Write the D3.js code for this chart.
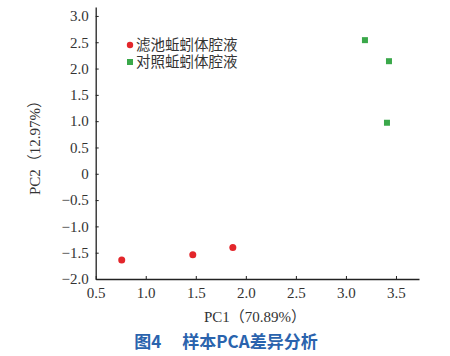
<!DOCTYPE html>
<html>
<head>
<meta charset="utf-8">
<script src="https://cdn.jsdelivr.net/npm/d3@7"></script>
<style>
  body { margin: 0; background: #fff; }
  .tick text { font-family: "Liberation Serif", serif; font-size: 15px; fill: #333; }
</style>
</head>
<body>
<div id="chart"></div>
<script>
// sample groups and PC scores
var groups = ["滤池蚯蚓体腔液", "对照蚯蚓体腔液"];
var groupColors = ["#e3262b", "#3aa84a"];
var filterPC1 = [0.76, 1.47, 1.87];
var filterPC2 = [-1.64, -1.54, -1.40];
var controlPC1 = [3.19, 3.43, 3.41];
var controlPC2 = [2.54, 2.14, 0.97];
var xTicks = [0.5, 1.0, 1.5, 2.0, 2.5, 3.0, 3.5];
var yTicks = [-2.0, -1.5, -1.0, -0.5, 0, 0.5, 1.0, 1.5, 2.0, 2.5, 3.0];

var width = 450, height = 356;
var svg = d3.select("#chart").append("svg")
    .attr("width", width)
    .attr("height", height);

var x = d3.scaleLinear().domain([0.5, 3.73]).range([95.7, 419]);
var y = d3.scaleLinear().domain([-2, 3.17]).range([279, 7]);

function fmt(d) { return d === 0 ? "0" : d3.format(".1f")(d).replace("-", "\u2212"); }

// x axis, ticks point inward
var gx = svg.append("g")
    .attr("transform", "translate(0," + y(-2) + ")")
    .call(d3.axisBottom(x).tickValues(xTicks).tickSize(-3).tickPadding(8).tickFormat(fmt).tickSizeOuter(0));
gx.select(".domain").attr("stroke", "#222").attr("stroke-width", 1.3);
gx.selectAll(".tick line").attr("stroke", "#222");

var gy = svg.append("g")
    .attr("transform", "translate(" + x(0.5) + ",0)")
    .call(d3.axisLeft(y).tickValues(yTicks).tickSize(-3).tickPadding(7).tickFormat(fmt).tickSizeOuter(0));
gy.select(".domain").attr("stroke", "#222").attr("stroke-width", 1.3);
gy.selectAll(".tick line").attr("stroke", "#222");

// points
var filterData = filterPC1.map(function(d, i) { return {x: d, y: filterPC2[i]}; });
var controlData = controlPC1.map(function(d, i) { return {x: d, y: controlPC2[i]}; });

svg.selectAll(".pt-filter").data(filterData)
  .enter().append("circle")
    .attr("class", "pt-filter")
    .attr("cx", function(d) { return x(d.x); })
    .attr("cy", function(d) { return y(d.y); })
    .attr("r", 3.5)
    .attr("fill", groupColors[0]);

svg.selectAll(".pt-control").data(controlData)
  .enter().append("rect")
    .attr("class", "pt-control")
    .attr("x", function(d) { return x(d.x) - 3; })
    .attr("y", function(d) { return y(d.y) - 3; })
    .attr("width", 6)
    .attr("height", 6)
    .attr("fill", groupColors[1]);

// legend
var legend = svg.append("g").attr("transform", "translate(130,45)");
groups.forEach(function(g, i) {
  var row = legend.append("g").attr("transform", "translate(0," + (i * 17) + ")");
  if (i === 0) {
    row.append("circle").attr("r", 3.2).attr("fill", groupColors[i]);
  } else {
    row.append("rect").attr("x", -3).attr("y", -3).attr("width", 6).attr("height", 6).attr("fill", groupColors[i]);
  }
  row.append("text")
    .attr("x", 6).attr("y", 5)
    .style("font-family", "'Noto Sans CJK SC', sans-serif")
    .style("font-size", "14.5px")
    .attr("fill", "#333")
    .text(g);
});

// axis titles (full-width brackets as in the figure)
svg.append("text")
  .attr("x", 255).attr("y", 322)
  .attr("text-anchor", "middle")
  .style("font-family", "'Liberation Serif', 'Noto Sans CJK SC', serif")
  .style("font-size", "15px")
  .attr("fill", "#333")
  .text("PC1（70.89%）");

svg.append("text")
  .attr("transform", "translate(40,144) rotate(-90)")
  .attr("text-anchor", "middle")
  .style("font-family", "'Liberation Serif', 'Noto Sans CJK SC', serif")
  .style("font-size", "15px")
  .attr("fill", "#333")
  .text("PC2（12.97%）");

// caption
svg.append("text")
  .attr("x", 226).attr("y", 348)
  .attr("text-anchor", "middle")
  .style("font-family", "'Noto Sans CJK SC', sans-serif")
  .style("font-size", "17px")
  .style("font-weight", "bold")
  .attr("fill", "#2a63ad")
  .attr("xml:space", "preserve")
  .text("图4\u3000 样本PCA差异分析");
</script>
</body>
</html>
